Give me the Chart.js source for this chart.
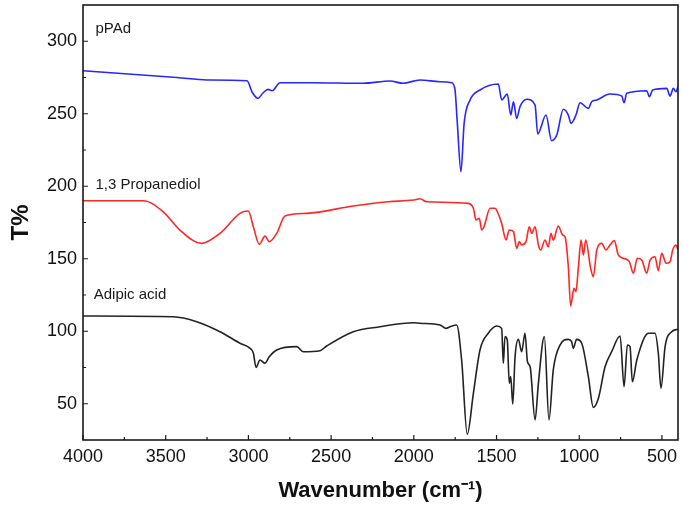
<!DOCTYPE html>
<html>
<head>
<meta charset="utf-8">
<script src="https://cdn.jsdelivr.net/npm/chart.js@4.4.0/dist/chart.umd.min.js"></script>
<style>
  html, body { margin: 0; padding: 0; background: #fff; }
</style>
</head>
<body>
<canvas id="ftir" width="682" height="510"></canvas>
<script>
'use strict';

// series names
var seriesNames = [ 'pPAd', '1,3 Propanediol', 'Adipic acid' ];

// pPAd spectrum (wavenumber / T%)
var pPAdWn = [ 4000, 3432, 3250, 3008, 2978, 2942, 2912, 2881, 2857, 2809, 2609, 2307, 2144, 2065, 1963, 1842, 1771, 1751, 1737, 1715,
               1696, 1660, 1600, 1489, 1469, 1435, 1414, 1398, 1378, 1358, 1317, 1267, 1251, 1201, 1167, 1136, 1096, 1066, 1050, 1020,
               995, 945, 925, 894, 814, 743, 729, 713, 592, 576, 556, 471, 451, 431, 415, 403 ];
var pPAdT  = [ 279.7, 275, 273.3, 272.8, 265, 260.6, 264.3, 266.8, 265.9, 271.4, 271.4, 271, 272.6, 271, 273.3, 272.1, 271.4, 266.4, 243.4, 210,
               243.4, 259.5, 266.4, 270.5, 259.5, 263.6, 249.1, 258.3, 246.8, 254.9, 260, 256, 236, 249.1, 231.4, 235.3, 253.1, 249.1, 243.4, 249.1,
               257.6, 253.7, 258.3, 259.5, 263.6, 262.2, 257.6, 264.1, 265.9, 261.8, 266.4, 267.5, 262.2, 267.5, 265.2, 268.7 ];

// 1,3 Propanediol spectrum
var pdoWn = [ 4000, 3636, 3515, 3414, 3283, 3172, 3051, 3001, 2970, 2934, 2900, 2874, 2829, 2779, 2648, 2366, 2154, 2003, 1963, 1922,
              1670, 1640, 1624, 1604, 1590, 1576, 1539, 1509, 1495, 1469, 1443, 1423, 1398, 1378, 1362, 1348, 1322, 1302, 1287, 1267,
              1247, 1233, 1207, 1187, 1171, 1157, 1127, 1100, 1086, 1066, 1052, 1032, 1020, 1005, 989, 975, 961, 931, 915, 894,
              864, 838, 814, 788, 764, 733, 697, 673, 649, 622, 592, 572, 542, 522, 501, 475, 451, 435, 415, 403 ];
var pdoT  = [ 190, 190, 182.4, 169.8, 160.6, 167.5, 181.3, 182.9, 172.1, 159.9, 165.6, 161.8, 167.5, 179.5, 181.3, 186.4, 189.3, 190.5, 191.4, 189.3,
              188.2, 184.8, 176.7, 177.9, 169.8, 172.1, 184.8, 184.8, 182.4, 174.5, 162.9, 169.8, 168.7, 157.2, 161.8, 159.5, 161.8, 172.1, 167.5, 172.1,
              159.5, 156, 162.9, 158.3, 167.5, 162.9, 172.6, 166.3, 165.1, 144.5, 117.4, 129.6, 127.3, 144.5, 162.9, 152.6, 162.9, 143.4, 137.6, 156,
              160.6, 156, 159.5, 162.5, 152.6, 150.3, 148, 140, 150.3, 149.1, 140, 149.1, 151.4, 141.8, 153.7, 146.9, 148, 156, 159.5, 156 ];

// Adipic acid spectrum
var adipicWn = [ 4000, 3454, 3313, 3172, 3051, 2990, 2970, 2954, 2930, 2900, 2874, 2829, 2708, 2668, 2567, 2527, 2366, 2204, 2003, 1963,
                 1842, 1805, 1781, 1741, 1711, 1677, 1640, 1600, 1550, 1499, 1469, 1459, 1449, 1435, 1423, 1414, 1402, 1388, 1368, 1348,
                 1328, 1313, 1297, 1267, 1247, 1211, 1183, 1157, 1116, 1066, 1046, 1036, 1016, 985, 945, 915, 884, 844, 804, 753,
                 729, 709, 693, 679, 652, 582, 542, 522, 506, 481, 441, 403 ];
var adipicT  = [ 110.5, 110, 106.6, 99.7, 91.7, 88.2, 84.8, 75.1, 80.2, 77.9, 82.4, 87.1, 89.4, 85.9, 86.6, 89.8, 99.7, 103.1, 105.9, 105.5,
                 104.3, 102, 103.1, 104.3, 80.2, 29, 57.2, 87.1, 98.6, 103.6, 102, 77.9, 96.3, 94, 64.1, 68.7, 49.8, 82.4, 94.4, 85.9,
                 98.6, 79, 75.5, 38.8, 64.1, 96.3, 38.8, 73.3, 90.5, 94.4, 92.8, 88.2, 94.4, 91.7, 68.7, 47.5, 53.8, 75.5, 85.9, 96.7,
                 61.8, 90.5, 89.4, 65.2, 80.2, 98.6, 98.6, 84.8, 60.7, 89.4, 99.7, 101.4 ];

// axis ticks
var xTicks = [ 4000, 3500, 3000, 2500, 2000, 1500, 1000, 500 ];
var yTicks = [ 50, 100, 150, 200, 250, 300 ];

function toPoints( wn, t ) {
    var pts = [];
    for ( var i = 0; i < Math.min( wn.length, t.length ); i++ ) {
        pts.push( { x: wn[ i ], y: t[ i ] } );
    }
    return pts;
}

// frame, inward ticks and series labels
var framePlugin = {
    id: 'frame',
    afterDatasetsDraw: function( chart ) {
        var ctx = chart.ctx;
        var area = chart.chartArea;
        var xs = chart.scales.x;
        var ys = chart.scales.y;
        ctx.save();
        ctx.strokeStyle = '#1a1a1a';
        ctx.lineWidth = 1.6;
        ctx.strokeRect( area.left, area.top, area.right - area.left, area.bottom - area.top );

        ctx.lineWidth = 1.2;
        ctx.beginPath();
        for ( var v = 4000; v >= xs.min; v -= 250 ) {
            var px = xs.getPixelForValue( v );
            var len = ( v % 500 === 0 ) ? 5 : 3;
            ctx.moveTo( px, area.bottom );
            ctx.lineTo( px, area.bottom - len );
        }
        for ( var w = 50; w < ys.max; w += 25 ) {
            var py = ys.getPixelForValue( w );
            var l = ( w % 50 === 0 ) ? 5 : 3;
            ctx.moveTo( area.left, py );
            ctx.lineTo( area.left + l, py );
        }
        ctx.stroke();

        // series names, anchored in data coordinates
        var anchors = [ [ 3925, 308.5 ], [ 3925, 201 ], [ 3935, 125 ] ];
        ctx.fillStyle = '#1a1a1a';
        ctx.font = '15px "Liberation Sans", Arial, sans-serif';
        ctx.textBaseline = 'middle';
        ctx.textAlign = 'left';
        seriesNames.forEach( function( name, i ) {
            ctx.fillText( name, xs.getPixelForValue( anchors[ i ][ 0 ] ), ys.getPixelForValue( anchors[ i ][ 1 ] ) );
        });
        ctx.restore();
    }
};

var lineStyle = { borderWidth: 1.6, pointRadius: 0, fill: false, cubicInterpolationMode: 'monotone' };
var plainLabel = function( value ) { return String( value ); };

var chart = new Chart( document.getElementById( 'ftir' ).getContext( '2d' ), {
    type: 'line',
    data: {
        datasets: [
            Object.assign( { label: seriesNames[ 0 ], data: toPoints( pPAdWn, pPAdT ), borderColor: '#2626ff' }, lineStyle ),
            Object.assign( { label: seriesNames[ 1 ], data: toPoints( pdoWn, pdoT ), borderColor: '#ff2626' }, lineStyle ),
            Object.assign( { label: seriesNames[ 2 ], data: toPoints( adipicWn, adipicT ), borderColor: '#222222' }, lineStyle ),
        ],
    },
    options: {
        responsive: false,
        animation: false,
        layout: { padding: { top: 5, right: 4, left: 0, bottom: 0 } },
        plugins: { legend: { display: false }, tooltip: { enabled: false } },
        scales: {
            x: {
                type: 'linear',
                reverse: true,
                min: 403,
                max: 4000,
                grid: { display: false, drawTicks: false },
                border: { display: false },
                afterBuildTicks: function( scale ) {
                    scale.ticks = xTicks.map( function( v ) { return { value: v }; } );
                },
                afterFit: function( scale ) {
                    scale.height = 70;
                    scale.paddingLeft = 0;
                    scale.paddingRight = 0;
                },
                ticks: {
                    padding: 6,
                    maxRotation: 0,
                    autoSkip: false,
                    color: '#111',
                    callback: plainLabel,
                    font: { family: '"Liberation Sans", Arial, sans-serif', size: 18 },
                },
                title: {
                    display: true,
                    text: 'Wavenumber (cm\u207B\u00B9)',
                    color: '#111',
                    padding: { top: 0, bottom: 6 },
                    font: { family: '"Liberation Sans", Arial, sans-serif', size: 22, weight: 'bold' },
                },
            },
            y: {
                min: 25,
                max: 325,
                grid: { display: false, drawTicks: false },
                border: { display: false },
                afterBuildTicks: function( scale ) {
                    scale.ticks = yTicks.map( function( v ) { return { value: v }; } );
                },
                afterFit: function( scale ) {
                    scale.width = 83;
                    scale.paddingTop = 0;
                    scale.paddingBottom = 0;
                },
                ticks: {
                    padding: 6,
                    color: '#111',
                    callback: plainLabel,
                    font: { family: '"Liberation Sans", Arial, sans-serif', size: 18 },
                },
                title: {
                    display: true,
                    text: 'T%',
                    color: '#111',
                    padding: { top: 7, bottom: 0 },
                    font: { family: '"Liberation Sans", Arial, sans-serif', size: 24, weight: 'bold' },
                },
            },
        },
    },
    plugins: [ framePlugin ],
});
</script>
</body>
</html>
